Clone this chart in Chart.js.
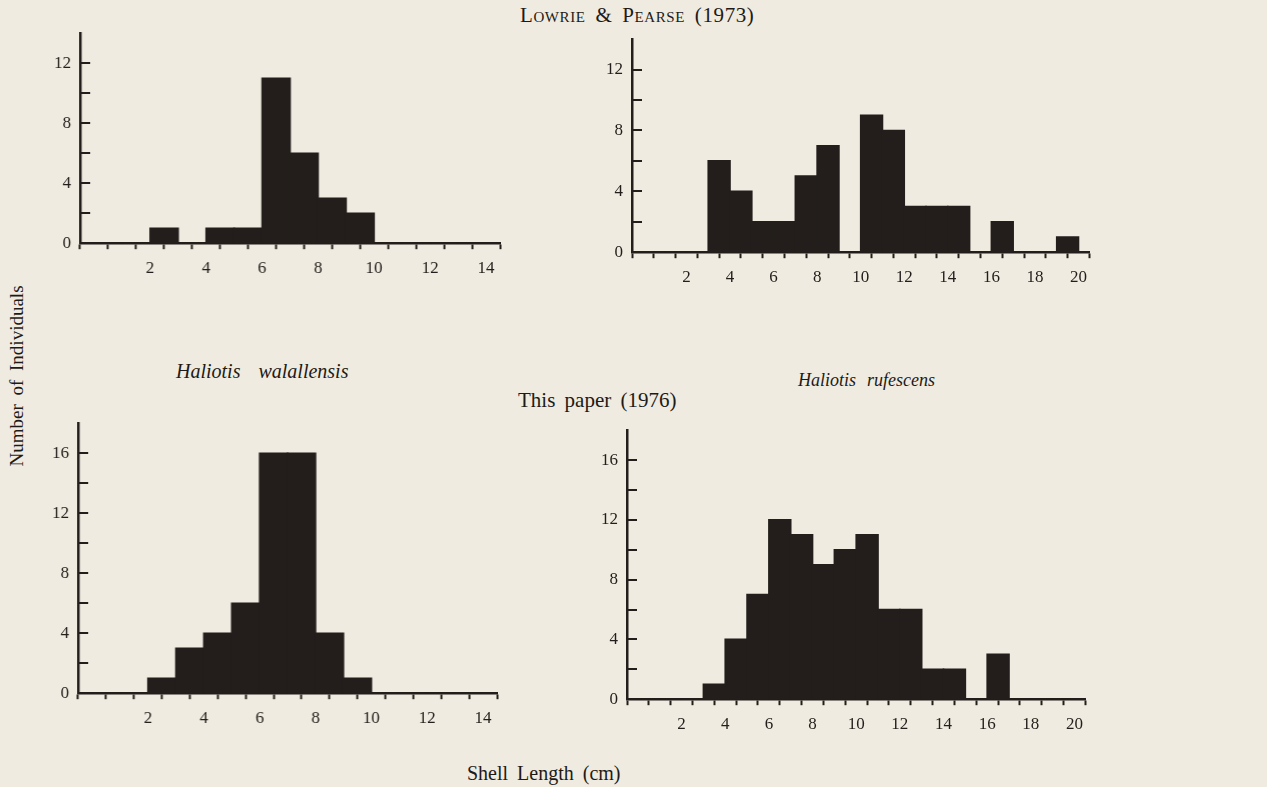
<!DOCTYPE html>
<html>
<head>
<meta charset="utf-8">
<script src="https://cdn.jsdelivr.net/npm/chart.js@4.4.0/dist/chart.umd.min.js"></script>
<style>
  body { margin: 0; background: #efebe0; width: 1267px; height: 787px; overflow: hidden; position: relative;
         font-family: "Liberation Serif", "DejaVu Serif", serif; color: #1e1a17; }
  canvas { position: absolute; }
  .lbl { position: absolute; white-space: nowrap; font-size: 20px; word-spacing: 4px; }
  .sc { font-variant: small-caps; letter-spacing: 0.6px; }
  .it { font-style: italic; }
</style>
</head>
<body>
<div class="lbl sc" style="left:520px; top:3px; font-size:21px;">Lowrie &amp; Pearse (1973)</div>
<div class="lbl it" style="left:176px; top:360px;">Haliotis&nbsp; walallensis</div>
<div class="lbl it" style="left:798px; top:370px; font-size:18px; word-spacing:1px;">Haliotis&nbsp; rufescens</div>
<div class="lbl" style="left:518px; top:388px; font-size:21px;">This paper (1976)</div>
<div class="lbl" style="left:467px; top:762px;">Shell Length (cm)</div>
<div class="lbl" style="left:-103px; top:365px; transform: rotate(-90deg); width:240px; text-align:center; font-size:19px;">Number of Individuals</div>

<canvas id="c1"></canvas>
<canvas id="c2"></canvas>
<canvas id="c3"></canvas>
<canvas id="c4"></canvas>

<script>
// bin lower edges are 0,1,2,... ; one value per 1 cm bin
const walallensisLowrie = [0, 0, 1, 0, 1, 1, 11, 6, 3, 2, 0, 0, 0, 0];
const rufescensLowrie   = [0, 0, 0, 6, 4, 2, 2, 5, 7, 0, 9, 8, 3, 3, 3, 0, 2, 0, 0, 1];
const walallensisThis   = [0, 0, 1, 3, 4, 6, 16, 16, 4, 1, 0, 0, 0, 0];
const rufescensThis     = [0, 0, 0, 1, 4, 7, 12, 11, 9, 10, 11, 6, 6, 2, 2, 0, 3, 0, 0, 0];

const xLabelsShort = [2, 4, 6, 8, 10, 12, 14];
const xLabelsLong  = [2, 4, 6, 8, 10, 12, 14, 16, 18, 20];
const yLabelsTop    = [0, 4, 8, 12];
const yLabelsBottom = [0, 4, 8, 12, 16];

const INK = '#231e1b';
const FONT = '"Liberation Serif", "DejaVu Serif", serif';

// y ticks point into the plot, so draw them ourselves from the scale
const inwardTicks = {
  id: 'inwardTicks',
  afterDraw(chart) {
    const { ctx, scales: { y } } = chart;
    ctx.save();
    ctx.strokeStyle = INK;
    ctx.lineWidth = 2;
    y.ticks.forEach(t => {
      if (t.value <= 0 || t.value >= y.max) return;
      const py = Math.round(y.getPixelForValue(t.value));
      ctx.beginPath();
      ctx.moveTo(y.right, py);
      ctx.lineTo(y.right + 10, py);
      ctx.stroke();
    });
    ctx.restore();
  }
};

function makeHist(id, values, xMax, yMax, xLabels, yLabels, area) {
  const padL = 60, padB = 44;
  const cv = document.getElementById(id);
  const aw = area.right - area.left, ah = area.bottom - area.top;
  let w = aw + padL + 30, h = ah + padB + 20;
  cv.width = w; cv.height = h;
  cv.style.width = w + 'px'; cv.style.height = h + 'px';

  const points = values.map((v, i) => ({ x: i + 0.5, y: v }));

  const chart = new Chart(cv, {
    type: 'bar',
    data: {
      datasets: [{
        data: points,
        backgroundColor: INK,
        borderWidth: 0,
        inflateAmount: 0.8,
        barPercentage: 1,
        categoryPercentage: 1,
      }]
    },
    options: {
      responsive: false,
      maintainAspectRatio: false,
      animation: false,
      layout: { padding: 0 },
      plugins: { legend: { display: false }, tooltip: { enabled: false } },
      scales: {
        x: {
          type: 'linear', min: 0, max: xMax,
          afterFit(s) { s.height = padB; },
          border: { display: true, color: INK, width: 2.5 },
          grid: { drawOnChartArea: false, drawTicks: true, tickLength: 6, tickColor: INK, tickWidth: 2 },
          ticks: {
            stepSize: 1, autoSkip: false, maxRotation: 0, padding: 9,
            color: INK, font: { family: FONT, size: 17 },
            callback: v => xLabels.includes(v) ? String(v) : ''
          }
        },
        y: {
          min: 0, max: yMax,
          afterFit(s) { s.width = padL; },
          border: { display: true, color: INK, width: 2.5 },
          grid: { display: false, drawTicks: false },
          ticks: {
            stepSize: 2, autoSkip: false, padding: 9,
            color: INK, font: { family: FONT, size: 17 },
            callback: v => yLabels.includes(v) ? String(v) : ''
          }
        }
      }
    },
    plugins: [inwardTicks]
  });

  // resize so the plot area matches the reference, then place the canvas
  const ca = chart.chartArea;
  w += aw - (ca.right - ca.left);
  h += ah - (ca.bottom - ca.top);
  chart.resize(w, h);
  const cb = chart.chartArea;
  cv.style.left = (area.left - cb.left) + 'px';
  cv.style.top = (area.top - cb.top) + 'px';
  return chart;
}

makeHist('c1', walallensisLowrie, 14, 14, xLabelsShort, yLabelsTop, { left: 80, top: 33, right: 500, bottom: 243 });
makeHist('c2', rufescensLowrie, 20, 14, xLabelsLong, yLabelsTop, { left: 632, top: 39, right: 1090, bottom: 252 });
makeHist('c3', walallensisThis, 14, 18, xLabelsShort, yLabelsBottom, { left: 78, top: 423, right: 497, bottom: 693 });
makeHist('c4', rufescensThis, 20, 18, xLabelsLong, yLabelsBottom, { left: 627, top: 430, right: 1086, bottom: 699 });
</script>
</body>
</html>
